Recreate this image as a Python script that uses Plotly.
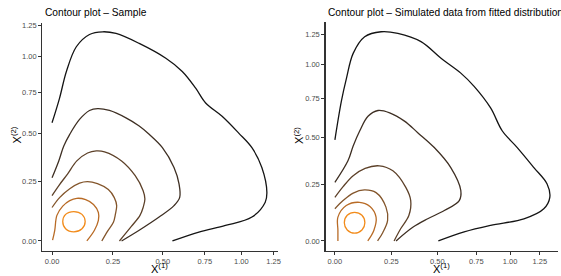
import numpy as np
import plotly.graph_objects as go

# ---------------- data (values in data units) ----------------
tick_values = [0.0, 0.25, 0.5, 0.75, 1.0, 1.25]
tick_labels = ["0.00", "0.25", "0.50", "0.75", "1.00", "1.25"]

panel_titles = ["Contour plot \u2013 Sample",
                "Contour plot \u2013 Simulated data from fitted distribution"]

# contour levels, from lowest density (outer, black) to highest (inner, orange)
level_colors = ["#141414", "#3e2f23", "#5d4129", "#83552b", "#b86b26", "#f28c1c"]

# ---- left panel: Sample ----
sample_l1_x = [0.0, 0.028, 0.054, 0.093, 0.147, 0.204, 0.264, 0.376, 0.517, 0.611, 0.692, 0.755,
               0.864, 0.981, 1.079, 1.156, 1.196, 1.183, 1.079, 0.887, 0.712, 0.554]
sample_l1_y = [0.559, 0.711, 0.891, 1.075, 1.173, 1.195, 1.181, 1.101, 0.987, 0.891, 0.776, 0.680,
               0.598, 0.500, 0.420, 0.318, 0.201, 0.157, 0.094, 0.060, 0.034, 0.0]

sample_l2_x = [0.0, 0.025, 0.044, 0.067, 0.106, 0.147, 0.182, 0.234, 0.311, 0.376, 0.427, 0.498,
               0.563, 0.592, 0.596, 0.563, 0.480, 0.376, 0.290]
sample_l2_y = [0.268, 0.351, 0.429, 0.493, 0.579, 0.633, 0.645, 0.633, 0.588, 0.540, 0.493, 0.420,
               0.318, 0.239, 0.178, 0.142, 0.094, 0.041, 0.0]

sample_l3_x = [0.0, 0.028, 0.059, 0.095, 0.139, 0.176, 0.212, 0.290, 0.356, 0.396, 0.405, 0.396,
               0.380, 0.337, 0.280]
sample_l3_y = [0.186, 0.236, 0.287, 0.351, 0.392, 0.403, 0.398, 0.351, 0.278, 0.208, 0.171, 0.134,
               0.101, 0.056, 0.0]

sample_l4_x = [0.0, 0.028, 0.067, 0.106, 0.139, 0.181, 0.229, 0.256, 0.267, 0.261, 0.252, 0.225, 0.200]
sample_l4_y = [0.134, 0.177, 0.217, 0.243, 0.250, 0.240, 0.213, 0.177, 0.142, 0.105, 0.073, 0.037, 0.0]

sample_l5_x = [0.002, 0.010, 0.018, 0.040, 0.067, 0.095, 0.131, 0.164, 0.185, 0.185, 0.168, 0.136]
sample_l5_y = [0.003, 0.041, 0.101, 0.140, 0.164, 0.174, 0.168, 0.147, 0.113, 0.080, 0.041, 0.0]

sample_l6_x = [0.040, 0.051, 0.083, 0.116, 0.129, 0.116, 0.083, 0.051, 0.040]
sample_l6_y = [0.0755, 0.105, 0.117, 0.105, 0.0755, 0.047, 0.035, 0.047, 0.0755]

# ---- right panel: Simulated data from fitted distribution ----
sim_l1_x = [0.0, 0.026, 0.047, 0.075, 0.125, 0.201, 0.283, 0.406, 0.522, 0.646, 0.735, 0.852,
            0.940, 1.058, 1.198, 1.316, 1.341, 1.286, 1.113, 0.852, 0.668, 0.506]
sim_l1_y = [0.487, 0.731, 0.895, 1.089, 1.230, 1.274, 1.259, 1.187, 1.049, 0.933, 0.835, 0.686,
            0.540, 0.443, 0.334, 0.251, 0.187, 0.135, 0.091, 0.063, 0.036, 0.0]

sim_l2_x = [0.0, 0.053, 0.075, 0.103, 0.140, 0.186, 0.242, 0.317, 0.388, 0.482, 0.582, 0.646,
            0.636, 0.542, 0.444, 0.361, 0.274]
sim_l2_y = [0.259, 0.370, 0.452, 0.540, 0.632, 0.669, 0.654, 0.601, 0.530, 0.443, 0.334, 0.219,
            0.172, 0.127, 0.091, 0.055, 0.0]

sim_l3_x = [0.0, 0.033, 0.075, 0.127, 0.192, 0.258, 0.324, 0.350, 0.340, 0.298, 0.264]
sim_l3_y = [0.187, 0.238, 0.292, 0.330, 0.343, 0.317, 0.234, 0.172, 0.105, 0.050, 0.0]

sim_l4_x = [0.0, 0.033, 0.075, 0.124, 0.177, 0.224, 0.232, 0.209, 0.184]
sim_l4_y = [0.135, 0.172, 0.207, 0.222, 0.209, 0.142, 0.084, 0.034, 0.0]

sim_l5_x = [0.012, 0.012, 0.012, 0.046, 0.102, 0.149, 0.177, 0.167, 0.139]
sim_l5_y = [0.0, 0.043, 0.098, 0.149, 0.164, 0.145, 0.098, 0.043, 0.0]

sim_l6_x = [0.038, 0.050, 0.081, 0.113, 0.126, 0.113, 0.081, 0.050, 0.038]
sim_l6_y = [0.074, 0.106, 0.119, 0.106, 0.074, 0.044, 0.031, 0.044, 0.074]

sample_levels = [(sample_l1_x, sample_l1_y), (sample_l2_x, sample_l2_y), (sample_l3_x, sample_l3_y),
                 (sample_l4_x, sample_l4_y), (sample_l5_x, sample_l5_y), (sample_l6_x, sample_l6_y)]
sim_levels = [(sim_l1_x, sim_l1_y), (sim_l2_x, sim_l2_y), (sim_l3_x, sim_l3_y),
              (sim_l4_x, sim_l4_y), (sim_l5_x, sim_l5_y), (sim_l6_x, sim_l6_y)]

# ---------------- figure ----------------
W, H = 561, 276
fig = go.Figure()

for panel, (levels, xa, ya) in enumerate([(sample_levels, "x", "y"), (sim_levels, "x2", "y2")]):
    for lvl, (xs, ys) in enumerate(levels):
        fig.add_trace(go.Scatter(
            x=np.log1p(np.array(xs)), y=np.log1p(np.array(ys)),
            mode="lines", xaxis=xa, yaxis=ya,
            line=dict(color=level_colors[lvl], width=1.3, shape="spline", smoothing=1.0),
            showlegend=False, hoverinfo="skip"))

tv = np.log1p(np.array(tick_values))
tick_font = dict(family="Liberation Sans, Arial, sans-serif", size=7.5, color="#4d4d4d")

def axis_common():
    return dict(tickmode="array", tickvals=tv, ticktext=tick_labels, ticks="outside", ticklen=3,
                tickwidth=1, tickcolor="#333333", showline=True, linecolor="#333333", linewidth=1.3,
                showgrid=False, zeroline=False, tickfont=tick_font)

px = lambda p: p / W
py = lambda p: 1 - p / H

fig.update_layout(
    width=W, height=H, margin=dict(l=0, r=0, t=0, b=0),
    paper_bgcolor="white", plot_bgcolor="white",
    xaxis=dict(domain=[px(42.7), px(279)], range=[-0.035, 0.8256], anchor="y", **axis_common()),
    yaxis=dict(domain=[py(251), py(21)], range=[-0.0384, 0.8198], anchor="x", **axis_common()),
    xaxis2=dict(domain=[px(327.3), 1.0], range=[-0.037, 0.883], anchor="y2", **axis_common()),
    yaxis2=dict(domain=[py(250.7), py(20)], range=[-0.039, 0.8604], anchor="x2", **axis_common()),
)

title_font = dict(family="Liberation Sans, Arial, sans-serif", size=10.2, color="#000000")
lab_font = dict(family="Liberation Sans, Arial, sans-serif", size=11, color="#000000")
annotations = [
    dict(text=panel_titles[0], x=px(43.3), y=py(10.8), xref="paper", yref="paper",
         xanchor="left", yanchor="middle", showarrow=False, font=title_font),
    dict(text=panel_titles[1], x=px(327.7), y=py(10.8), xref="paper", yref="paper",
         xanchor="left", yanchor="middle", showarrow=False, font=title_font),
    dict(text="X<sup>(1)</sup>", x=px(160.8), y=py(268), xref="paper", yref="paper",
         xanchor="center", yanchor="middle", showarrow=False, font=lab_font),
    dict(text="X<sup>(1)</sup>", x=px(444), y=py(268), xref="paper", yref="paper",
         xanchor="center", yanchor="middle", showarrow=False, font=lab_font),
    dict(text="X<sup>(2)</sup>", x=px(16.5), y=py(134), xref="paper", yref="paper",
         xanchor="center", yanchor="middle", showarrow=False, font=lab_font, textangle=-90),
    dict(text="X<sup>(2)</sup>", x=px(300.5), y=py(134), xref="paper", yref="paper",
         xanchor="center", yanchor="middle", showarrow=False, font=lab_font, textangle=-90),
]
fig.update_layout(annotations=annotations)

fig.write_html("out.html", config={"displayModeBar": False, "staticPlot": True},
               post_script="document.body.style.margin='0';document.body.style.overflow='hidden';")
